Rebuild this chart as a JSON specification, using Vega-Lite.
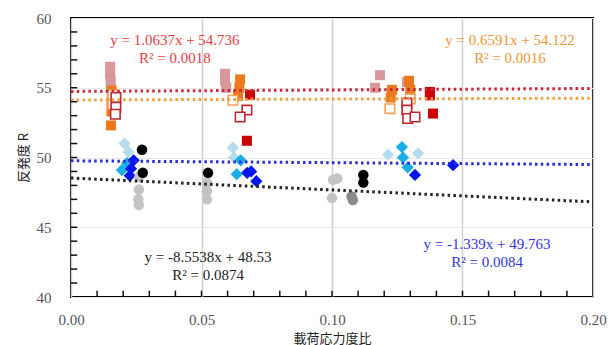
{
  "$schema": "https://vega.github.io/schema/vega-lite/v6.json",
  "width": 522,
  "height": 279,
  "autosize": {"type": "none"},
  "padding": {"left": 71, "top": 18, "right": 16, "bottom": 48},
  "background": "white",
  "config": {
    "view": {"stroke": "black", "strokeWidth": 2},
    "font": "Liberation Serif"
  },
  "datasets": {
    "points": [
      {"x": 0.0150, "y": 56.5, "g": "pink"},
      {"x": 0.0150, "y": 56.0, "g": "pink"},
      {"x": 0.0152, "y": 55.5, "g": "pink"},
      {"x": 0.0153, "y": 55.0, "g": "pink"},
      {"x": 0.0590, "y": 56.0, "g": "pink"},
      {"x": 0.0590, "y": 55.5, "g": "pink"},
      {"x": 0.0595, "y": 55.0, "g": "pink"},
      {"x": 0.1184, "y": 55.9, "g": "pink"},
      {"x": 0.1165, "y": 55.0, "g": "pink"},
      {"x": 0.1287, "y": 55.4, "g": "pink"},
      {"x": 0.0156, "y": 54.8, "g": "orange"},
      {"x": 0.0155, "y": 54.0, "g": "orange"},
      {"x": 0.0155, "y": 53.3, "g": "orange"},
      {"x": 0.0153, "y": 52.3, "g": "orange"},
      {"x": 0.0648, "y": 55.6, "g": "orange"},
      {"x": 0.0645, "y": 55.0, "g": "orange"},
      {"x": 0.0640, "y": 54.4, "g": "orange"},
      {"x": 0.1230, "y": 54.85, "g": "orange"},
      {"x": 0.1225, "y": 54.3, "g": "orange"},
      {"x": 0.1300, "y": 54.85, "g": "orange"},
      {"x": 0.1295, "y": 55.5, "g": "orange"},
      {"x": 0.0160, "y": 54.5, "g": "orange_open"},
      {"x": 0.0160, "y": 53.8, "g": "orange_open"},
      {"x": 0.0620, "y": 54.1, "g": "orange_open"},
      {"x": 0.1222, "y": 53.5, "g": "orange_open"},
      {"x": 0.1300, "y": 54.2, "g": "orange_open"},
      {"x": 0.0172, "y": 54.3, "g": "red_open"},
      {"x": 0.0172, "y": 53.6, "g": "red_open"},
      {"x": 0.0170, "y": 53.1, "g": "red_open"},
      {"x": 0.0674, "y": 53.4, "g": "red_open"},
      {"x": 0.0648, "y": 52.9, "g": "red_open"},
      {"x": 0.1287, "y": 53.9, "g": "red_open"},
      {"x": 0.1287, "y": 53.4, "g": "red_open"},
      {"x": 0.1290, "y": 52.8, "g": "red_open"},
      {"x": 0.1318, "y": 52.9, "g": "red_open"},
      {"x": 0.0686, "y": 54.5, "g": "red"},
      {"x": 0.0674, "y": 51.2, "g": "red"},
      {"x": 0.1375, "y": 54.7, "g": "red"},
      {"x": 0.1375, "y": 54.45, "g": "red"},
      {"x": 0.1387, "y": 53.15, "g": "red"},
      {"x": 0.0205, "y": 51.0, "g": "lightblue"},
      {"x": 0.0220, "y": 50.4, "g": "lightblue"},
      {"x": 0.0620, "y": 50.7, "g": "lightblue"},
      {"x": 0.0625, "y": 50.0, "g": "lightblue"},
      {"x": 0.1215, "y": 50.2, "g": "lightblue"},
      {"x": 0.1330, "y": 50.3, "g": "lightblue"},
      {"x": 0.0195, "y": 49.1, "g": "sky"},
      {"x": 0.0215, "y": 49.6, "g": "sky"},
      {"x": 0.0650, "y": 49.8, "g": "sky"},
      {"x": 0.0635, "y": 48.8, "g": "sky"},
      {"x": 0.1268, "y": 50.75, "g": "sky"},
      {"x": 0.1272, "y": 50.0, "g": "sky"},
      {"x": 0.1290, "y": 49.3, "g": "sky"},
      {"x": 0.0240, "y": 49.8, "g": "blue"},
      {"x": 0.0230, "y": 49.2, "g": "blue"},
      {"x": 0.0225, "y": 48.7, "g": "blue"},
      {"x": 0.0675, "y": 48.9, "g": "blue"},
      {"x": 0.0690, "y": 49.0, "g": "blue"},
      {"x": 0.0710, "y": 48.3, "g": "blue"},
      {"x": 0.1318, "y": 48.75, "g": "blue"},
      {"x": 0.1464, "y": 49.45, "g": "blue"},
      {"x": 0.0262, "y": 48.6, "g": "lightgray"},
      {"x": 0.0260, "y": 47.7, "g": "lightgray"},
      {"x": 0.0258, "y": 47.0, "g": "lightgray"},
      {"x": 0.0260, "y": 46.6, "g": "lightgray"},
      {"x": 0.0521, "y": 48.2, "g": "lightgray"},
      {"x": 0.0521, "y": 47.6, "g": "lightgray"},
      {"x": 0.0521, "y": 47.0, "g": "lightgray"},
      {"x": 0.1004, "y": 48.4, "g": "lightgray"},
      {"x": 0.1020, "y": 48.5, "g": "lightgray"},
      {"x": 0.1000, "y": 47.1, "g": "lightgray"},
      {"x": 0.1080, "y": 46.95, "g": "gray"},
      {"x": 0.1075, "y": 47.2, "g": "gray"},
      {"x": 0.0272, "y": 50.55, "g": "black"},
      {"x": 0.0275, "y": 48.9, "g": "black"},
      {"x": 0.0525, "y": 48.9, "g": "black"},
      {"x": 0.1120, "y": 48.75, "g": "black"},
      {"x": 0.1120, "y": 48.2, "g": "black"}
    ],
    "trends": [
      {"x": 0.0, "y": 54.736, "g": "trend_red"},
      {"x": 0.2, "y": 54.949, "g": "trend_red"},
      {"x": 0.0, "y": 54.122, "g": "trend_orange"},
      {"x": 0.2, "y": 54.254, "g": "trend_orange"},
      {"x": 0.0, "y": 49.763, "g": "trend_blue"},
      {"x": 0.2, "y": 49.495, "g": "trend_blue"},
      {"x": 0.0, "y": 48.53, "g": "trend_black"},
      {"x": 0.2, "y": 46.819, "g": "trend_black"}
    ],
    "labels": [
      {"x": 0.0398, "y": 58.42, "t": "y = 1.0637x + 54.736", "g": "label_red"},
      {"x": 0.0398, "y": 57.13, "t": "R² = 0.0018", "g": "label_red"},
      {"x": 0.1682, "y": 58.42, "t": "y = 0.6591x + 54.122", "g": "label_orange"},
      {"x": 0.1682, "y": 57.13, "t": "R² = 0.0016", "g": "label_orange"},
      {"x": 0.0525, "y": 42.87, "t": "y = -8.5538x + 48.53", "g": "label_black"},
      {"x": 0.0525, "y": 41.58, "t": "R² = 0.0874", "g": "label_black"},
      {"x": 0.1594, "y": 43.80, "t": "y = -1.339x + 49.763", "g": "label_blue"},
      {"x": 0.1594, "y": 42.51, "t": "R² = 0.0084", "g": "label_blue"}
    ],
    "xticks": [
      {"x": 0.01, "y": 40}, {"x": 0.02, "y": 40}, {"x": 0.03, "y": 40}, {"x": 0.04, "y": 40}, {"x": 0.05, "y": 40},
      {"x": 0.06, "y": 40}, {"x": 0.07, "y": 40}, {"x": 0.08, "y": 40}, {"x": 0.09, "y": 40}, {"x": 0.10, "y": 40},
      {"x": 0.11, "y": 40}, {"x": 0.12, "y": 40}, {"x": 0.13, "y": 40}, {"x": 0.14, "y": 40}, {"x": 0.15, "y": 40},
      {"x": 0.16, "y": 40}, {"x": 0.17, "y": 40}, {"x": 0.18, "y": 40}, {"x": 0.19, "y": 40}
    ],
    "yticks": [
      {"x": 0, "y": 41}, {"x": 0, "y": 42}, {"x": 0, "y": 43}, {"x": 0, "y": 44}, {"x": 0, "y": 45},
      {"x": 0, "y": 46}, {"x": 0, "y": 47}, {"x": 0, "y": 48}, {"x": 0, "y": 49}, {"x": 0, "y": 50},
      {"x": 0, "y": 51}, {"x": 0, "y": 52}, {"x": 0, "y": 53}, {"x": 0, "y": 54}, {"x": 0, "y": 55},
      {"x": 0, "y": 56}, {"x": 0, "y": 57}, {"x": 0, "y": 58}, {"x": 0, "y": 59}
    ]
  },
  "encoding": {
    "x": {
      "field": "x",
      "type": "quantitative",
      "scale": {"domain": [0, 0.2], "nice": false, "zero": false},
      "axis": {
        "values": [0, 0.05, 0.1, 0.15, 0.2],
        "format": ".2f",
        "labelOverlap": false,
        "labelFlush": false,
        "labelFont": "Liberation Serif",
        "labelFontSize": 15,
        "labelColor": "#555555",
        "labelPadding": 15,
        "grid": true,
        "gridColor": "#cfcfcf",
        "gridWidth": 1.5,
        "domain": false,
        "ticks": false,
        "title": "載荷応力度比",
        "titleFont": "Noto Sans CJK JP",
        "titleFontSize": 13,
        "titleFontWeight": "normal",
        "titleColor": "#222222",
        "titlePadding": 5
      }
    },
    "y": {
      "field": "y",
      "type": "quantitative",
      "scale": {"domain": [40, 60], "nice": false, "zero": false},
      "axis": {
        "values": [40, 45, 50, 55, 60],
        "format": "d",
        "labelOverlap": false,
        "labelFlush": false,
        "labelFont": "Liberation Serif",
        "labelFontSize": 15,
        "labelColor": "#555555",
        "labelPadding": 20,
        "grid": true,
        "gridColor": "#e8e8e8",
        "gridWidth": 1,
        "domain": false,
        "ticks": false,
        "title": "反発度 R",
        "titleFont": "Noto Sans CJK JP",
        "titleFontSize": 13,
        "titleFontWeight": "normal",
        "titleColor": "#222222",
        "titlePadding": 6
      }
    },
    "color": {
      "field": "g",
      "type": "nominal",
      "legend": null,
      "scale": {
        "domain": ["pink", "orange", "orange_open", "red_open", "red", "lightblue", "sky", "blue", "lightgray", "gray", "black", "trend_red", "trend_orange", "trend_blue", "trend_black", "label_red", "label_orange", "label_blue", "label_black", "tick"],
        "range": ["#d9969b", "#ec7a1c", "#f2a05a", "#c0262d", "#cc0000", "#b5dcec", "#1aaee6", "#0015f0", "#c4c4c4", "#8a8a8a", "#000000", "#c8283c", "#f0a040", "#2b2bd8", "#222222", "#e63c44", "#f0963a", "#3333dd", "#222222", "#000000"]
      }
    }
  },
  "layer": [
    {
      "data": {"name": "points"},
      "transform": [{"filter": "datum.g === 'pink' || datum.g === 'orange'"}],
      "mark": {"type": "point", "shape": "square", "filled": true, "size": 100, "opacity": 1}
    },
    {
      "data": {"name": "points"},
      "transform": [{"filter": "datum.g === 'orange_open' || datum.g === 'red_open'"}],
      "mark": {"type": "point", "shape": "square", "filled": false, "fill": "white", "fillOpacity": 1, "size": 90, "strokeWidth": 1.6, "opacity": 1}
    },
    {
      "data": {"name": "points"},
      "transform": [{"filter": "datum.g === 'red'"}],
      "mark": {"type": "point", "shape": "square", "filled": true, "size": 100, "opacity": 1}
    },
    {
      "data": {"name": "points"},
      "transform": [{"filter": "datum.g === 'lightblue' || datum.g === 'sky' || datum.g === 'blue'"}],
      "mark": {"type": "point", "shape": "diamond", "filled": true, "size": 150, "opacity": 1}
    },
    {
      "data": {"name": "points"},
      "transform": [{"filter": "datum.g === 'lightgray' || datum.g === 'gray' || datum.g === 'black'"}],
      "mark": {"type": "point", "shape": "circle", "filled": true, "size": 110, "opacity": 1}
    },
    {
      "data": {"name": "trends"},
      "mark": {"type": "line", "strokeWidth": 3, "strokeDash": [2.5, 3.3]}
    },
    {
      "data": {"name": "xticks"},
      "mark": {"type": "rule", "strokeWidth": 1.5, "color": "#111111"},
      "encoding": {"y2": {"datum": 40.45}, "color": {"value": "#111111"}}
    },
    {
      "data": {"name": "yticks"},
      "mark": {"type": "rule", "strokeWidth": 1.5, "color": "#111111"},
      "encoding": {"x2": {"datum": 0.0024}, "color": {"value": "#111111"}}
    },
    {
      "data": {"name": "labels"},
      "mark": {"type": "text", "font": "Liberation Serif", "fontSize": 15, "align": "center", "baseline": "middle"},
      "encoding": {"text": {"field": "t", "type": "nominal"}}
    }
  ]
}
